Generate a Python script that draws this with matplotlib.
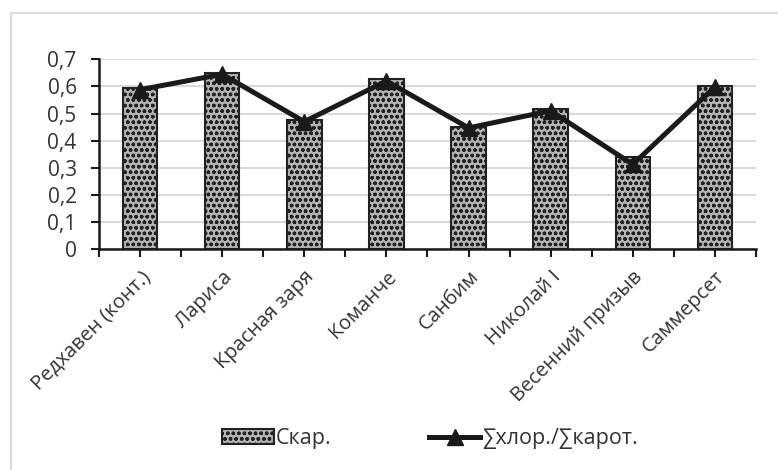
import matplotlib
matplotlib.use("Agg")
import matplotlib.pyplot as plt
from matplotlib.patches import Rectangle
from matplotlib.ticker import FuncFormatter, MultipleLocator
import numpy as np

plt.rcParams['font.family'] = ['Open Sans', 'DejaVu Sans']
plt.rcParams['hatch.color'] = '#777777'
plt.rcParams['hatch.linewidth'] = 1.0

## data
sorts = ['Редхавен (конт.)', 'Лариса', 'Красная заря', 'Команче',
         'Санбим', 'Николай I', 'Весенний призыв', 'Саммерсет']
skar = [0.593, 0.648, 0.476, 0.626, 0.451, 0.515, 0.341, 0.601]
chl_car = [0.588, 0.645, 0.47, 0.62, 0.447, 0.51, 0.312, 0.598]

fig = plt.figure(figsize=(7.78, 4.70), dpi=100)
ax = fig.add_axes([0.1272, 0.4702, 0.8445, 0.4036])

# light frame around the chart
fig.patches.append(Rectangle((11 / 778, -0.05), 1.0, (470 - 13) / 470 + 0.05,
                             transform=fig.transFigure, fill=False,
                             edgecolor='#d9d9d9', linewidth=1.5))

x = np.arange(len(sorts))
bars = ax.bar(x, skar, width=0.42, color='#b3b3b3', edgecolor='#222222',
              linewidth=1.5, hatch='ooo', label='Скар.', zorder=2)
line, = ax.plot(x, chl_car, color='#1a1a1a', linewidth=3.6, marker='^',
                markersize=12, label='∑хлор./∑карот.', zorder=3)

ax.set_xlim(-0.5, len(sorts) - 0.5)
ax.set_ylim(0, 0.7)
ax.yaxis.set_major_locator(MultipleLocator(0.1))
ax.yaxis.set_major_formatter(FuncFormatter(lambda v, p: ('%.1f' % v).replace('.', ',') if v > 0 else '0'))
ax.grid(axis='y', color='#d9d9d9', linewidth=1.5, zorder=0)
ax.set_axisbelow(True)

for s in ['top', 'right']:
    ax.spines[s].set_visible(False)
for s in ['left', 'bottom']:
    ax.spines[s].set_linewidth(1.8)
    ax.spines[s].set_color('#1a1a1a')

ax.set_xticks(x)
ax.set_xticklabels(sorts, rotation=45, ha='right', rotation_mode='anchor', fontsize=14.5, color='#333333')
ax.set_xticks(np.arange(len(sorts) + 1) - 0.5, minor=True)
ax.tick_params(axis='x', which='both', length=6, width=1.5, direction='out', color='#1a1a1a', pad=7)
ax.tick_params(axis='y', length=6, width=1.5, labelsize=15, labelcolor='#333333', color='#1a1a1a', pad=10)

fig.legend([bars, line], ['Скар.', '∑хлор./∑карот.'], loc='center',
           bbox_to_anchor=(0.553, 0.066), ncol=2, frameon=False,
           fontsize=15.5, handlelength=2.4, columnspacing=4.5, handletextpad=0.1,
           labelcolor='#333333')

fig.savefig('out.png', dpi=100)
